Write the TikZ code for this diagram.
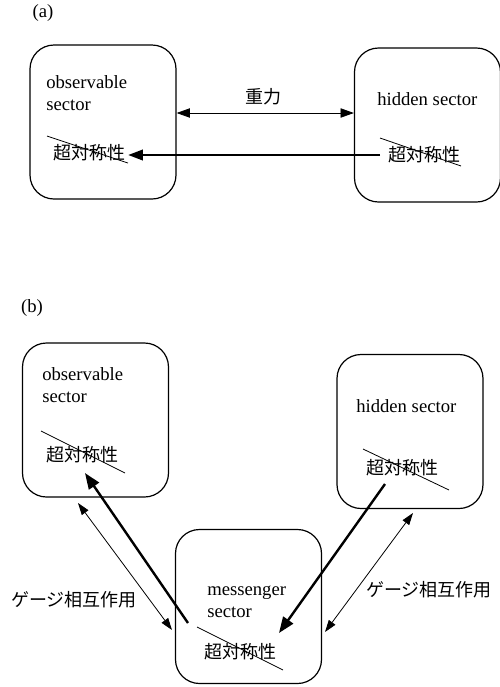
\documentclass[tikz,border=0pt]{standalone}
\usepackage{fontspec}
\setmainfont{Liberation Serif}
\newfontfamily\cjk{Noto Sans CJK JP}
\usetikzlibrary{arrows.meta,calc}
\begin{document}
\begin{tikzpicture}[x=0.75pt,y=-0.75pt,
  sbox/.style={draw,line width=0.9pt,rounded corners=18pt,minimum width=109.5pt,minimum height=115.5pt,inner sep=0pt},
  lbl/.style={font=\fontsize{14}{16}\selectfont,inner sep=0pt,anchor=base west},
  jlbl/.style={font=\fontsize{13.5}{16}\selectfont\cjk,inner sep=0pt},
  strike/.style={line width=0.6pt},
  thinarr/.style={line width=0.6pt,{Triangle[length=9pt,width=6pt]}-{Triangle[length=9pt,width=6pt]}},
  midarr/.style={line width=0.6pt,{Triangle[length=10pt,width=7pt]}-{Triangle[length=10pt,width=7pt]}},
  thickarr/.style={line width=1.3pt,-{Triangle[length=11pt,width=8pt]}},
  heavyarr/.style={line width=1.8pt,-{Triangle[length=12pt,width=9pt]}}]
\useasboundingbox (0,0) rectangle (500,687);

% ---------- (a) ----------
\node[font=\fontsize{14}{16}\selectfont,inner sep=0pt] (la) at (43,13) {(a)};
\node[sbox] (aobs) at (103,122) {};
\node[sbox] (ahid) at (427.5,125) {};
\node[lbl] (aobs1) at (46,88) {observable};
\node[lbl] (aobs2) at (46,110) {sector};
\node[lbl] (ahid1) at (377,105) {hidden sector};
\node[jlbl] (aobss) at (90,153) {超対称性};
\node[jlbl] (ahids) at (424.5,155) {超対称性};
\draw[strike] (47,136) -- (128,163);
\draw[strike] (380,138) -- (461,166);
\draw[midarr] ($(aobs.east)+(0,-9)$) -- ($(ahid.west)+(0,-12)$);
\node[jlbl] (grav) at (263,97) {重力};
\draw[thickarr] ($(ahids.west)+(-8,0)$) -- ($(aobss.east |- ahids.west)+(2,0)$);

% ---------- (b) ----------
\node[font=\fontsize{14}{16}\selectfont,inner sep=0pt] (lb) at (32,308) {(b)};
\node[sbox] (bobs) at (95.5,420) {};
\node[sbox] (bhid) at (410,431.5) {};
\node[sbox] (bmes) at (248.5,606.5) {};
\node[lbl] (bobs1) at (42,380) {observable};
\node[lbl] (bobs2) at (42,402) {sector};
\node[lbl] (bhid1) at (356,412) {hidden sector};
\node[lbl] (bmes1) at (207,595) {messenger};
\node[lbl] (bmes2) at (207,617) {sector};
\node[jlbl] (bobss) at (82.5,455) {超対称性};
\node[jlbl] (bhids) at (402.5,468) {超対称性};
\node[jlbl] (bmess) at (240.5,652) {超対称性};
\draw[strike] (41,431) -- (125,473);
\draw[strike] (363,449) -- (449,490);
\draw[strike] (197,627) -- (283,670);

\coordinate (m1) at (188,623);
\coordinate (o1) at (85,473);
\coordinate (h1) at (385,484);
\coordinate (m2) at (279,633);
\draw[heavyarr] (m1) -- (o1);
\draw[heavyarr] (h1) -- (m2);

\coordinate (o2) at (78,503);
\coordinate (m3) at (172,630);
\coordinate (h2) at (413,513);
\coordinate (m4) at (325,632);
\draw[thinarr] (o2) -- (m3);
\draw[thinarr] (h2) -- (m4);

\node[jlbl] (g1) at (74,600) {ゲージ相互作用};
\node[jlbl] (g2) at (429,590) {ゲージ相互作用};
\end{tikzpicture}
\end{document}
